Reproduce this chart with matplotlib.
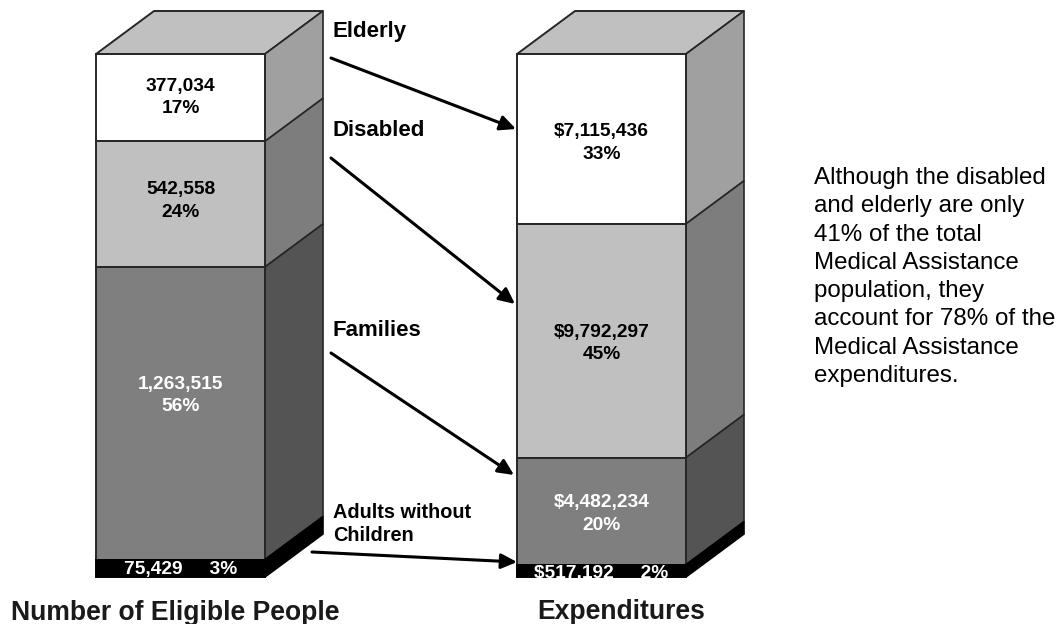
#!/usr/bin/env python3
# -*- coding: utf-8 -*-
"""Medical Assistance: eligible people vs expenditures, drawn as two 3D style stacks"""

import matplotlib
matplotlib.use('Agg')
import matplotlib.pyplot as plt
from matplotlib.patches import Polygon

plt.rcParams['font.family'] = ['Liberation Sans', 'DejaVu Sans']

# data, top of the stack first
groups = ['Elderly', 'Disabled', 'Families', 'Adults without\nChildren']
people = [377034, 542558, 1263515, 75429]
people_pct = [17, 24, 56, 3]
spending = [7115436, 9792297, 4482234, 517192]
spending_pct = [33, 45, 20, 2]
stack_titles = ['Number of Eligible People', 'Expenditures']
note = ('Although the disabled\nand elderly are only\n41% of the total\n'
        'Medical Assistance\npopulation, they\naccount for 78% of the\n'
        'Medical Assistance\nexpenditures.')

# colours per segment: front face, side face
FRONT = ['#ffffff', '#c0c0c0', '#7f7f7f', '#000000']
SIDE = ['#a0a0a0', '#7d7d7d', '#545454', '#000000']
TOP = '#c0c0c0'
EDGE = '#262626'
TEXT_COL = ['#000000', '#000000', '#ffffff', '#ffffff']

# layout in pixels
W, H = 1060, 624
TOP_Y, BASE_Y = 54, 577
BAR_W = 169
DX, DY = 58, 43
# labels do not sit exactly in the middle of their segment
LEFT_SHIFT = [0, -3, -18, 1]
RIGHT_SHIFT = [4, 3, 3, 3]


def draw_stack(ax, x0, values, labels, shifts):
    """One stack, segment heights scaled from the values"""
    x1 = x0 + BAR_W
    scale = (BASE_Y - TOP_Y) / sum(values)
    ax.add_patch(Polygon([(x0, TOP_Y), (x1, TOP_Y), (x1 + DX, TOP_Y - DY), (x0 + DX, TOP_Y - DY)],
                         facecolor=TOP, edgecolor=EDGE, linewidth=1.4, joinstyle='round'))
    y = TOP_Y
    for i, v in enumerate(values):
        y2 = y + v * scale
        last = i == len(values) - 1
        edge = 'black' if last else EDGE
        ax.add_patch(Polygon([(x1, y), (x1 + DX, y - DY), (x1 + DX, y2 - DY), (x1, y2)],
                             facecolor=SIDE[i], edgecolor=edge, linewidth=1.2))
        front = ax.add_patch(Polygon([(x0, y), (x1, y), (x1, y2), (x0, y2)],
                                     facecolor=FRONT[i], edgecolor=edge, linewidth=1.4))
        t = ax.text((x0 + x1) / 2, (y + y2) / 2 + shifts[i], labels[i], color=TEXT_COL[i],
                    ha='center', va='center', fontsize=13.8, fontweight='bold', linespacing=1.42)
        if last:
            # the bottom label is cut off by the black band
            t.set_clip_path(front)
        y = y2


def arrow(ax, start, end):
    ax.annotate('', xy=end, xytext=start,
                arrowprops=dict(arrowstyle='-|>,head_length=0.95,head_width=0.45', color='black',
                                linewidth=2.2, shrinkA=0, shrinkB=0, mutation_scale=10))


def main():
    fig = plt.figure(figsize=(W / 100, H / 100), dpi=100)
    ax = fig.add_axes([0, 0, 1, 1])
    ax.set_xlim(0, W)
    ax.set_ylim(H, 0)
    ax.axis('off')

    left = [f'{v:,}\n{p}%' for v, p in zip(people[:3], people_pct[:3])]
    left.append(f'{people[3]:,}     {people_pct[3]}%')
    right = [f'${v:,}\n{p}%' for v, p in zip(spending[:3], spending_pct[:3])]
    right.append(f'${spending[3]:,}     {spending_pct[3]}%')
    draw_stack(ax, 96, people, left, LEFT_SHIFT)
    draw_stack(ax, 517, spending, right, RIGHT_SHIFT)

    # group names between the stacks
    ax.text(332, 32, groups[0], fontsize=16, fontweight='bold', va='center')
    ax.text(333, 131, groups[1], fontsize=16, fontweight='bold', va='center')
    ax.text(333, 331, groups[2], fontsize=16, fontweight='bold', va='center')
    ax.text(333, 524, groups[3], fontsize=14.3, fontweight='bold', va='center', linespacing=1.3)

    arrow(ax, (331, 58), (516, 129))
    arrow(ax, (331, 158), (515, 304))
    arrow(ax, (331, 353), (514, 475))
    arrow(ax, (312, 552), (517, 562))

    ax.text(11, 613, stack_titles[0], fontsize=19.1, fontweight='bold', va='center', color='#1a1a1a')
    ax.text(537, 612, stack_titles[1], fontsize=19.1, fontweight='bold', va='center', color='#1a1a1a')

    ax.text(814, 277, note, fontsize=17.4, va='center', linespacing=1.37)

    fig.savefig('out.png', dpi=100)


if __name__ == '__main__':
    main()
